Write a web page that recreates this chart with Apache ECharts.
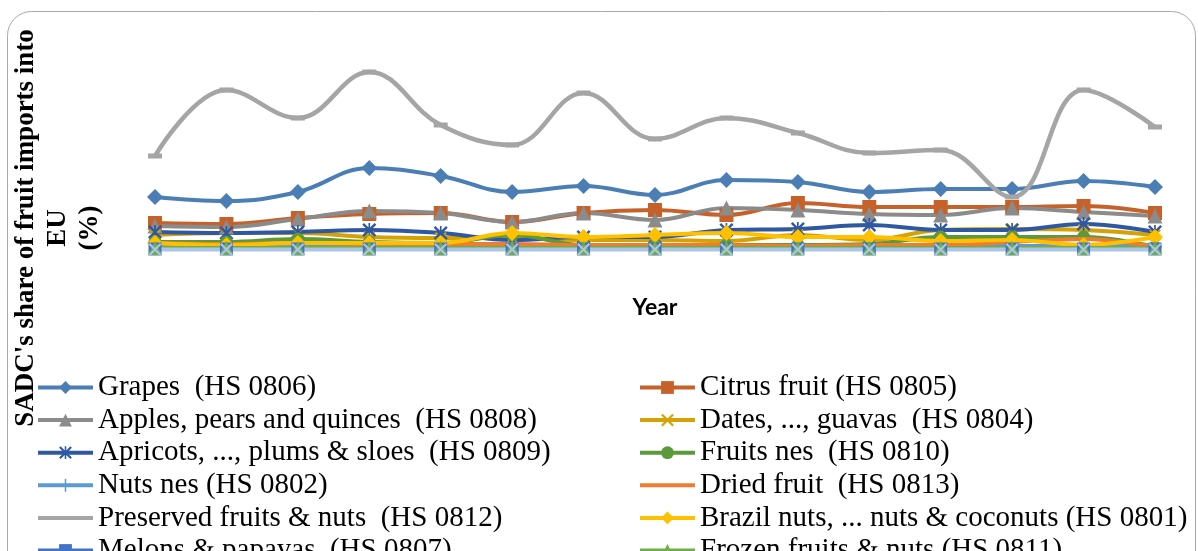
<!DOCTYPE html>
<html>
<head>
<meta charset="utf-8">
<script src="https://cdn.jsdelivr.net/npm/echarts@6/dist/echarts.min.js"></script>
<style>
html,body{margin:0;padding:0;background:#fff;}
#chart{width:1198px;height:551px;}
</style>
</head>
<body>
<div id="chart"></div>
<script>
// ---- data ----
const years = ['2001','2002','2003','2004','2005','2006','2007','2008','2009','2010','2011','2012','2013','2014','2015'];

const grapes      = [5.5, 5.1, 6.0, 8.4, 7.6, 6.0, 6.6, 5.7, 7.2, 7.0, 6.0, 6.3, 6.3, 7.1, 6.5];
const citrus      = [2.9, 2.8, 3.4, 3.8, 3.9, 3.0, 3.9, 4.2, 3.7, 4.9, 4.5, 4.5, 4.5, 4.6, 3.9];
const apples      = [2.6, 2.5, 3.3, 4.1, 3.9, 3.0, 3.9, 3.2, 4.4, 4.2, 3.8, 3.7, 4.4, 4.0, 3.6];
const dates       = [1.7, 1.9, 1.9, 1.5, 1.4, 1.4, 1.2, 1.2, 1.1, 1.7, 1.2, 2.2, 2.3, 2.2, 1.7];
const apricots    = [2.0, 1.9, 2.0, 2.2, 1.9, 1.2, 1.5, 1.5, 2.2, 2.3, 2.7, 2.2, 2.2, 2.8, 2.0];
const fruitsNes   = [1.0, 1.0, 1.3, 1.0, 0.9, 1.7, 0.7, 0.7, 0.7, 0.7, 0.8, 1.5, 1.5, 1.5, 0.5];
const nutsNes     = [0.7, 0.6, 0.6, 0.6, 0.6, 0.6, 0.6, 0.6, 0.6, 0.6, 0.6, 0.7, 0.6, 0.6, 0.6];
const driedFruit  = [0.9, 0.8, 0.9, 0.8, 0.8, 0.8, 0.7, 0.7, 0.7, 0.6, 0.7, 0.7, 1.0, 1.3, 0.5];
const preserved   = [9.6, 16.2, 13.4, 18.0, 12.7, 10.7, 15.9, 11.3, 13.4, 11.9, 9.9, 10.2, 5.5, 16.2, 12.5];
const brazilNuts  = [0.9, 0.7, 0.9, 0.9, 0.9, 1.9, 1.5, 1.7, 1.9, 1.5, 1.5, 1.1, 1.2, 0.7, 1.5];
const melons      = [0.3, 0.3, 0.3, 0.3, 0.3, 0.3, 0.3, 0.3, 0.3, 0.3, 0.3, 0.3, 0.3, 0.3, 0.3];
const frozen      = [0.4, 0.4, 0.4, 0.4, 0.4, 0.4, 0.4, 0.4, 0.4, 0.4, 0.4, 0.4, 0.4, 0.4, 0.4];
const bananas     = [0.25, 0.25, 0.25, 0.25, 0.25, 0.25, 0.25, 0.25, 0.25, 0.25, 0.25, 0.25, 0.25, 0.25, 0.25];

const names = [
  'Grapes  (HS 0806)',
  'Citrus fruit (HS 0805)',
  'Apples, pears and quinces  (HS 0808)',
  'Dates, ..., guavas  (HS 0804)',
  'Apricots, ..., plums & sloes  (HS 0809)',
  'Fruits nes  (HS 0810)',
  'Nuts nes (HS 0802)',
  'Dried fruit  (HS 0813)',
  'Preserved fruits & nuts  (HS 0812)',
  'Brazil nuts, ... nuts & coconuts (HS 0801)',
  'Melons & papayas  (HS 0807)',
  'Frozen fruits & nuts (HS 0811)',
  'Bananas (HS 0803)'
];

const xPath = 'path://M0,1.2L1.2,0L5,3.8L8.8,0L10,1.2L6.2,5L10,8.8L8.8,10L5,6.2L1.2,10L0,8.8L3.8,5Z';
const starPath = 'path://M4.4,0H5.6V10H4.4ZM0,1.2L1.2,0L5,3.8L8.8,0L10,1.2L6.2,5L10,8.8L8.8,10L5,6.2L1.2,10L0,8.8L3.8,5Z';
const plusPath = 'path://M4.4,0H5.6V4.4H10V5.6H5.6V10H4.4V5.6H0V4.4H4.4Z';
// plain line legend icon (tiny corner dots keep the 55x16 box so the bar is not stretched)
const lineIcon = 'path://M0,0h0.01v0.01h-0.01ZM0,6H55V10H0ZM54.99,15.99h0.01v0.01h-0.01Z';

const styles = [
  {d: grapes,     c: '#4a7eb4', s: 'diamond',  z: 16, w: 4},
  {d: citrus,     c: '#c6612a', s: 'rect',     z: 14, w: 4},
  {d: apples,     c: '#8b8b8b', s: 'triangle', z: 15, w: 4},
  {d: dates,      c: '#d4a204', s: xPath,      z: 12, w: 4},
  {d: apricots,   c: '#2f58a3', s: starPath,   z: 14, w: 4},
  {d: fruitsNes,  c: '#5b9a3b', s: 'circle',   z: 13, w: 4},
  {d: nutsNes,    c: '#5b9bd5', s: plusPath,   z: 12, w: 4},
  {d: driedFruit, c: '#ed7d31', s: 'rect',     z: [12, 4], w: 4},
  {d: preserved,  c: '#a5a5a5', s: 'rect',     z: [14, 5], w: 4.5},
  {d: brazilNuts, c: '#ffc000', s: 'diamond',  z: 16, w: 4},
  {d: melons,     c: '#4472c4', s: 'rect',     z: 13, w: 4},
  {d: frozen,     c: '#70ad47', s: 'triangle', z: 14, w: 4},
  {d: bananas,    c: '#aac5e9', s: xPath,      z: 13, w: 4}
];

const series = styles.map((st, i) => ({
  name: names[i],
  type: 'line',
  data: st.d,
  smooth: 0.4,
  symbol: st.s,
  symbolSize: st.z,
  showSymbol: true,
  lineStyle: {color: st.c, width: st.w},
  itemStyle: {color: st.c},
  emphasis: {disabled: true},
  animation: false
}));

const legendText = {fontFamily: 'Liberation Serif', fontSize: 29, color: '#000'};
const legendBase = {
  orient: 'vertical',
  top: 373, height: 400,
  padding: 0,
  itemWidth: 55, itemHeight: 16, itemGap: 3.6,
  textStyle: legendText,
  lineStyle: {width: 4},
  selectedMode: false
};

const chart = echarts.init(document.getElementById('chart'), null, {renderer: 'canvas'});
chart.setOption({
  backgroundColor: '#ffffff',
  animation: false,
  grid: {left: 155, right: 43, top: 52, bottom: 299},
  xAxis: {
    type: 'category',
    data: years,
    boundaryGap: false,
    axisLine: {show: false},
    axisTick: {show: false},
    axisLabel: {show: false},
    name: 'Year',
    nameLocation: 'middle',
    nameGap: 44,
    nameTextStyle: {fontFamily: 'Lato', fontWeight: 'bold', fontSize: 23, color: '#000'}
  },
  yAxis: {
    type: 'value',
    min: 0,
    max: 20,
    axisLine: {show: false},
    axisTick: {show: false},
    axisLabel: {show: false},
    splitLine: {show: false}
  },
  legend: [
    Object.assign({}, legendBase, {
      left: 36,
      data: [names[0], names[2], names[4], names[6], {name: names[8], icon: lineIcon}, names[10]]
    }),
    Object.assign({}, legendBase, {
      left: 638,
      data: [names[1], names[3], names[5], {name: names[7], icon: lineIcon}, names[9], names[11]]
    })
  ],
  graphic: [
    {
      type: 'rect',
      z: -10,
      shape: {x: 7.5, y: 11.5, width: 1188, height: 600, r: 24},
      style: {fill: 'none', stroke: '#a8a8a8', lineWidth: 1},
      silent: true
    },
    {
      type: 'text',
      x: 58, y: 228,
      rotation: Math.PI / 2,
      z: 100,
      style: {
        text: "SADC's share of fruit imports into\nEU\n(%)",
        fontFamily: 'Liberation Serif',
        fontWeight: 'bold',
        fontSize: 27,
        lineHeight: 32,
        fill: '#000',
        textAlign: 'center',
        textVerticalAlign: 'middle'
      },
      silent: true
    }
  ],
  series: series
});
</script>
</body>
</html>
